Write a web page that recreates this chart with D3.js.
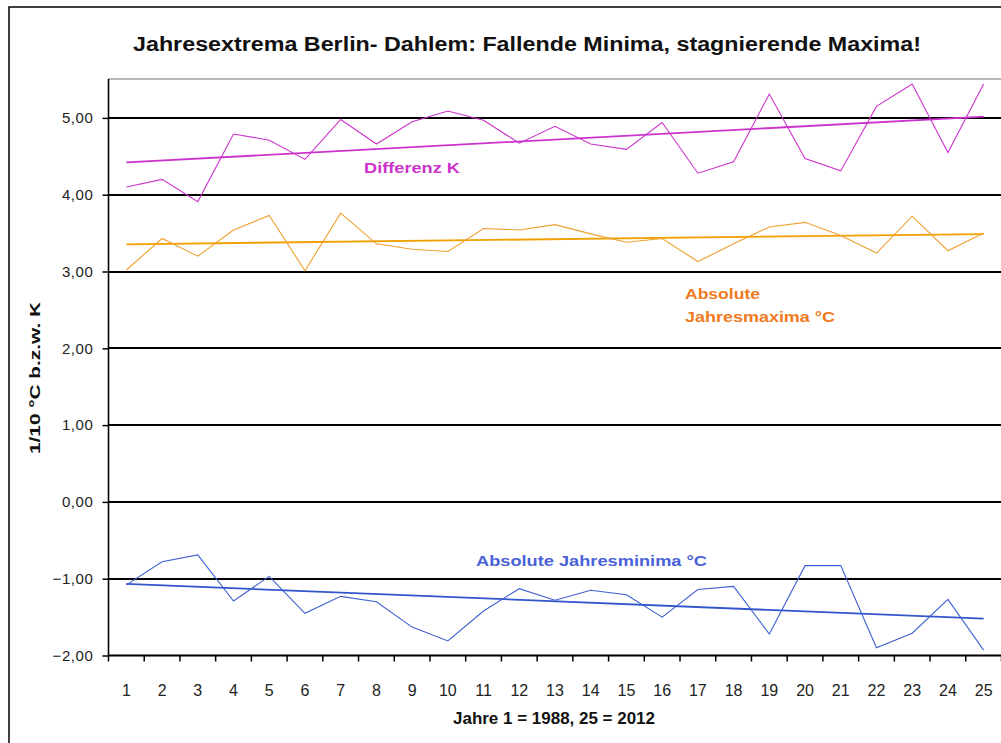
<!DOCTYPE html>
<html><head><meta charset="utf-8">
<script src="https://cdn.jsdelivr.net/npm/d3@7"></script>
<style>
html,body{margin:0;padding:0;background:#fff;overflow:hidden}
text{font-family:"Liberation Sans",Arial,sans-serif}
</style></head>
<body>
<svg id="c" width="1001" height="743"></svg>
<script>
const years = d3.range(1, 26);
const maxima = [3.02,3.43,3.20,3.54,3.73,3.01,3.76,3.36,3.29,3.26,3.56,3.54,3.61,3.49,3.38,3.43,3.13,3.36,3.58,3.64,3.47,3.24,3.72,3.27,3.50];
const minima = [-1.08,-0.78,-0.69,-1.29,-0.97,-1.45,-1.23,-1.30,-1.63,-1.81,-1.42,-1.13,-1.28,-1.15,-1.21,-1.50,-1.14,-1.10,-1.72,-0.83,-0.83,-1.90,-1.71,-1.27,-1.93];
const differenz = [4.10,4.20,3.91,4.79,4.71,4.46,4.98,4.66,4.95,5.09,4.97,4.67,4.89,4.66,4.59,4.94,4.28,4.43,5.31,4.47,4.31,5.15,5.44,4.55,5.44];
const yTicks = [-2,-1,0,1,2,3,4,5];
const title = "Jahresextrema Berlin- Dahlem: Fallende Minima, stagnierende Maxima!";
const xTitle = "Jahre 1 = 1988, 25 = 2012";
const yTitle = "1/10 °C b.z.w. K";

const svg = d3.select("#c");
const L = 108.5, R = 108.5 + 25*35.72, T = 79, B = 655.5;

const x = d3.scaleBand().domain(years).range([L, R]);
const y = d3.scaleLinear().domain([-2, 5.5]).range([B, B - 7.5*76.8]);

// outer frame
svg.append("rect").attr("x",9).attr("y",7).attr("width",1100).attr("height",800)
  .attr("fill","#fff").attr("stroke","#000").attr("stroke-width",1.5);

// title
svg.append("text").attr("x",527).attr("y",51).attr("text-anchor","middle")
  .attr("font-size",20).attr("font-weight","bold").attr("fill","#111")
  .attr("textLength",788).attr("lengthAdjust","spacingAndGlyphs").text(title);

// plot area border
svg.append("rect").attr("x",L).attr("y",T).attr("width",1000).attr("height",B-T)
  .attr("fill","none").attr("stroke","#888").attr("stroke-width",1.2);

// gridlines
svg.append("g").selectAll("line").data(yTicks.filter(v=>v>-2)).join("line")
  .attr("x1",L).attr("x2",1001).attr("y1",d=>Math.round(y(d))).attr("y2",d=>Math.round(y(d)))
  .attr("stroke","#000").attr("stroke-width",2);

// y axis
const yAxis = d3.axisLeft(y).tickValues(yTicks).tickSize(6).tickPadding(9)
  .tickFormat(d => d3.format(".2f")(d).replace(".", ","));
const gy = svg.append("g").attr("transform",`translate(${L},0)`).call(yAxis);
gy.select(".domain").attr("stroke","#000").attr("stroke-width",1.5).attr("d",`M-0,${T}V${B}`);
gy.selectAll(".tick line").attr("stroke","#000").attr("stroke-width",1.5);
gy.selectAll(".tick text").attr("font-size",15).attr("fill","#222")
  .attr("letter-spacing","0.6px").attr("font-family","Liberation Sans, Arial, sans-serif");

// x axis
const bounds = d3.range(0, 26).map(i => L + i*x.bandwidth());
const gx = svg.append("g");
gx.append("line").attr("x1",L).attr("x2",1001).attr("y1",B).attr("y2",B).attr("stroke","#000").attr("stroke-width",2);
gx.selectAll("line.t").data(bounds).join("line").attr("class","t")
  .attr("x1",d=>d).attr("x2",d=>d).attr("y1",B).attr("y2",B+6).attr("stroke","#000").attr("stroke-width",1.5);
gx.selectAll("text").data(years).join("text")
  .attr("x",d=>x(d)+x.bandwidth()/2).attr("y",696).attr("text-anchor","middle")
  .attr("font-size",16).attr("fill","#222").text(d=>d);

// axis titles
svg.append("text").attr("x",554).attr("y",724).attr("text-anchor","middle")
  .attr("font-size",16).attr("font-weight","bold").attr("fill","#111")
  .attr("textLength",202).attr("lengthAdjust","spacingAndGlyphs").text(xTitle);
svg.append("text").attr("transform","translate(40,378) rotate(-90)").attr("text-anchor","middle")
  .attr("font-size",14).attr("font-weight","bold").attr("fill","#111")
  .attr("textLength",152).attr("lengthAdjust","spacingAndGlyphs").text(yTitle);

const cx = d => x(d) + x.bandwidth()/2;
function trend(vals){
  const xm = d3.mean(years), ym = d3.mean(vals);
  const b = d3.sum(years, (xi,i)=>(xi-xm)*(vals[i]-ym)) / d3.sum(years, xi=>(xi-xm)**2);
  const a = ym - b*xm;
  return [[1, a+b], [25, a+25*b]];
}
const line = d3.line().x(d=>cx(d[0])).y(d=>y(d[1]));

const series = [
  {vals: differenz, c: "#cc33cc", tc: "#cc33cc"},
  {vals: maxima, c: "#f0a030", tc: "#f0a000"},
  {vals: minima, c: "#3f5fcf", tc: "#3355cc"}
];
series.forEach(s => {
  svg.append("path").attr("d", line(trend(s.vals))).attr("fill","none")
    .attr("stroke", s.tc).attr("stroke-width", 1.8);
  svg.append("path").attr("d", line(years.map((yr,i)=>[yr, s.vals[i]]))).attr("fill","none")
    .attr("stroke", s.c).attr("stroke-width", 1.1);
});

// labels
function lbl(t, xx, yy, col, w){
  svg.append("text").attr("x",xx).attr("y",yy).attr("font-size",15.5).attr("font-weight","bold")
    .attr("fill",col).attr("textLength",w).attr("lengthAdjust","spacingAndGlyphs").text(t);
}
lbl("Differenz K", 364, 173, "#cc33cc", 96);
lbl("Absolute", 685, 299, "#f07a20", 75);
lbl("Jahresmaxima °C", 685, 322, "#f07a20", 150);
lbl("Absolute Jahresminima °C", 476, 566, "#4a62d8", 231);
</script>
</body></html>
